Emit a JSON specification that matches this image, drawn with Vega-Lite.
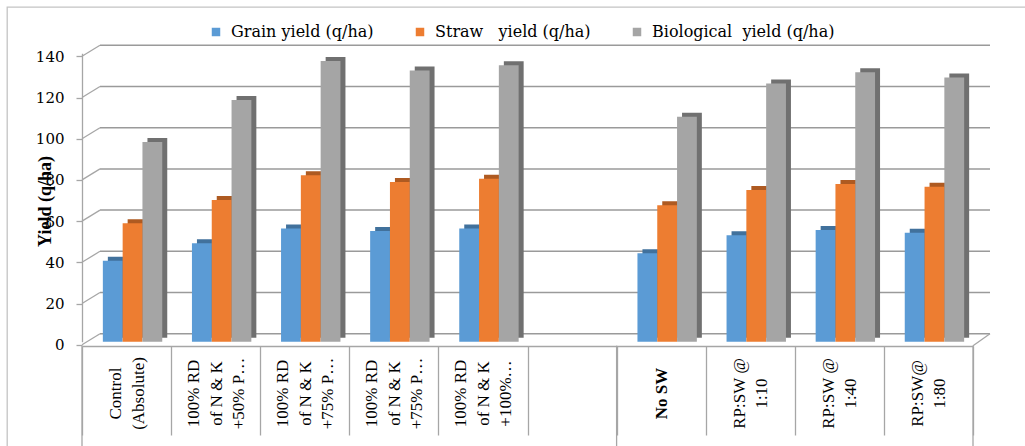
{
  "$schema": "https://vega.github.io/schema/vega-lite/v6.json",
  "width": 1028,
  "height": 449,
  "autosize": {"type": "none"},
  "padding": {"left": 7, "top": 7, "right": -10, "bottom": -10},
  "background": "white",
  "config": {
    "view": {"stroke": "#c4c4c4", "strokeWidth": 1.3},
    "axis": {"domainColor": "#a6a6a6", "tickColor": "#a6a6a6", "domainWidth": 1.3, "tickWidth": 1.3, "labelColor": "#000", "titleColor": "#000"}
  },
  "datasets": {
    "yields": [
      {"cat": "t1", "series": "grain", "value": 39.3},
      {"cat": "t1", "series": "straw", "value": 57.5},
      {"cat": "t1", "series": "bio", "value": 97.0},
      {"cat": "t2", "series": "grain", "value": 47.8},
      {"cat": "t2", "series": "straw", "value": 68.8},
      {"cat": "t2", "series": "bio", "value": 117.3},
      {"cat": "t3", "series": "grain", "value": 55.0},
      {"cat": "t3", "series": "straw", "value": 80.8},
      {"cat": "t3", "series": "bio", "value": 136.3},
      {"cat": "t4", "series": "grain", "value": 53.7},
      {"cat": "t4", "series": "straw", "value": 77.5},
      {"cat": "t4", "series": "bio", "value": 131.6},
      {"cat": "t5", "series": "grain", "value": 55.0},
      {"cat": "t5", "series": "straw", "value": 79.1},
      {"cat": "t5", "series": "bio", "value": 134.2},
      {"cat": "t7", "series": "grain", "value": 42.9},
      {"cat": "t7", "series": "straw", "value": 66.2},
      {"cat": "t7", "series": "bio", "value": 109.2},
      {"cat": "t8", "series": "grain", "value": 51.7},
      {"cat": "t8", "series": "straw", "value": 73.6},
      {"cat": "t8", "series": "bio", "value": 125.4},
      {"cat": "t9", "series": "grain", "value": 54.2},
      {"cat": "t9", "series": "straw", "value": 76.6},
      {"cat": "t9", "series": "bio", "value": 130.8},
      {"cat": "t10", "series": "grain", "value": 52.9},
      {"cat": "t10", "series": "straw", "value": 75.2},
      {"cat": "t10", "series": "bio", "value": 128.2}
    ],
    "gridValues": [{"g": 0}, {"g": 20}, {"g": 40}, {"g": 60}, {"g": 80}, {"g": 100}, {"g": 120}, {"g": 140}]
  },
  "layer": [
    {
      "data": {"name": "gridValues"},
      "mark": {"type": "rule", "color": "#9a9a9a", "strokeWidth": 1.5, "xOffset": 18, "x2Offset": 17, "yOffset": -8, "y2Offset": -8},
      "encoding": {
        "x": {"datum": "t1", "type": "nominal", "bandPosition": 0, "title": null},
        "x2": {"datum": "t10", "bandPosition": 1},
        "y": {"field": "g", "type": "quantitative", "title": "Yield (q/ha)"},
        "y2": {"field": "g"}
      }
    },
    {
      "data": {"name": "gridValues"},
      "mark": {"type": "rule", "color": "#a6a6a6", "strokeWidth": 1.3, "x2Offset": 18, "yOffset": 3, "y2Offset": -8},
      "encoding": {
        "x": {"datum": "t1", "type": "nominal", "bandPosition": 0, "title": null},
        "x2": {"datum": "t1", "bandPosition": 0},
        "y": {"field": "g", "type": "quantitative", "title": "Yield (q/ha)"},
        "y2": {"field": "g"}
      }
    },
    {
      "data": {"values": [{}]},
      "mark": {"type": "rule", "color": "#a6a6a6", "strokeWidth": 1.3, "yOffset": 4, "x2Offset": 17, "y2Offset": -8},
      "encoding": {
        "x": {"datum": "t10", "type": "nominal", "bandPosition": 1, "title": null},
        "x2": {"datum": "t10", "bandPosition": 1},
        "y": {"datum": 0, "type": "quantitative", "title": "Yield (q/ha)"},
        "y2": {"datum": 0}
      }
    },
    {
      "data": {"values": [{"cat": "t1"}, {"cat": "t7"}]},
      "mark": {"type": "rule", "color": "#a6a6a6", "strokeWidth": 1.3, "yOffset": 4},
      "encoding": {
        "x": {"field": "cat", "type": "nominal", "bandPosition": 0, "title": null},
        "y": {"datum": 0, "type": "quantitative", "title": "Yield (q/ha)"},
        "y2": {"datum": -55}
      }
    },
    {
      "data": {"values": [{}]},
      "mark": {"type": "rule", "color": "#a6a6a6", "strokeWidth": 1.3, "yOffset": 4},
      "encoding": {
        "x": {"datum": "t10", "type": "nominal", "bandPosition": 1, "title": null},
        "y": {"datum": 0, "type": "quantitative", "title": "Yield (q/ha)"},
        "y2": {"datum": -55}
      }
    },
    {
      "data": {"name": "yields"},
      "mark": {"type": "bar", "yOffset": -4, "y2Offset": -4},
      "encoding": {
        "x": {"field": "cat", "type": "nominal", "title": null},
        "xOffset": {"field": "series", "type": "nominal", "scale": {"domain": ["grain", "straw", "bio"], "range": [11, 100.1], "paddingInner": 0, "paddingOuter": 0.75}},
        "y": {"field": "value", "type": "quantitative", "title": "Yield (q/ha)"},
        "color": {
          "field": "series", "type": "nominal", "legend": null,
          "scale": {"domain": ["grain", "straw", "bio"], "range": ["#41719c", "#ae5a21", "#707070"]}
        }
      }
    },
    {
      "data": {"name": "yields"},
      "mark": {"type": "bar"},
      "encoding": {
        "x": {
          "field": "cat", "type": "nominal", "title": null,
          "scale": {"domain": ["t1", "t2", "t3", "t4", "t5", "t6", "t7", "t8", "t9", "t10"], "range": [75, 966], "paddingInner": 0, "paddingOuter": 0},
          "axis": {
            "title": null,
            "orient": "bottom",
            "offset": -110,
            "tickBand": "extent",
            "tickSize": 89,
            "labelAngle": 270,
            "labelAlign": "center",
            "labelBaseline": "middle",
            "labelPadding": -42,
            "labelOffset": {"condition": [
              {"test": "indexof(['t2', 't3', 't4', 't5'], datum.value) >= 0", "value": -22},
              {"test": "indexof(['t1', 't8', 't9', 't10'], datum.value) >= 0", "value": -11}
            ], "value": 0},
            "labelFont": "Liberation Serif",
            "labelFontSize": 17,
            "labelLineHeight": 22.5,
            "labelOverlap": false,
            "labelBound": false,
            "labelLimit": 0,
            "labelFontWeight": {"condition": {"test": "datum.value === 't7'", "value": "bold"}, "value": "normal"},
            "labelExpr": "{'t1': ['Control', '(Absolute)'], 't2': ['100% RD', 'of N & K', '+50% P…'], 't3': ['100% RD', 'of N & K', '+75% P…'], 't4': ['100% RD', 'of N & K', '+75% P…'], 't5': ['100% RD', 'of N & K', '+100%…'], 't6': '', 't7': 'No SW', 't8': ['RP:SW @', '1:10'], 't9': ['RP:SW @', '1:40'], 't10': ['RP:SW@', '1:80']}[datum.value]"
          }
        },
        "xOffset": {"field": "series", "type": "nominal", "scale": {"domain": ["grain", "straw", "bio"], "range": [6, 95.1], "paddingInner": 0, "paddingOuter": 0.75}},
        "y": {
          "field": "value", "type": "quantitative", "title": "Yield (q/ha)",
          "scale": {"domain": [0, 140], "range": [334.7, 46.3], "nice": false, "zero": true},
          "axis": {
            "title": "Yield (q/ha)",
            "orient": "left",
            "offset": -75,
            "values": [0, 20, 40, 60, 80, 100, 120, 140],
            "grid": false,
            "tickSize": 6,
            "tickOffset": 3,
            "labelPadding": 12,
            "labelFont": "DejaVu Serif",
            "labelFontSize": 15,
            "titleFont": "Liberation Serif",
            "titleFontSize": 18,
            "titleFontWeight": "bold",
            "titleAngle": 270,
            "titleAlign": "center",
            "titleBaseline": "middle",
            "titleX": -37,
            "titleY": 194
          }
        },
        "color": {
          "field": "series", "type": "nominal",
          "scale": {"domain": ["grain", "straw", "bio"], "range": ["#5b9bd5", "#ed7d31", "#a5a5a5"]},
          "legend": {
            "title": null,
            "orient": "none",
            "direction": "horizontal",
            "legendX": 201,
            "legendY": 17,
            "padding": 0,
            "symbolType": "square",
            "symbolSize": 72,
            "symbolStrokeWidth": 0,
            "labelFont": "DejaVu Serif",
            "labelFontSize": 16,
            "labelColor": "#000",
            "labelOffset": 7,
            "labelLimit": 0,
            "columnPadding": 38,
            "labelExpr": "datum.value === 'grain' ? 'Grain yield (q/ha)' : datum.value === 'straw' ? 'Straw\u00a0\u00a0\u00a0yield (q/ha)' : 'Biological\u00a0 yield (q/ha)'"
          }
        }
      }
    }
  ],
  "resolve": {"scale": {"color": "independent", "xOffset": "independent"}}
}
